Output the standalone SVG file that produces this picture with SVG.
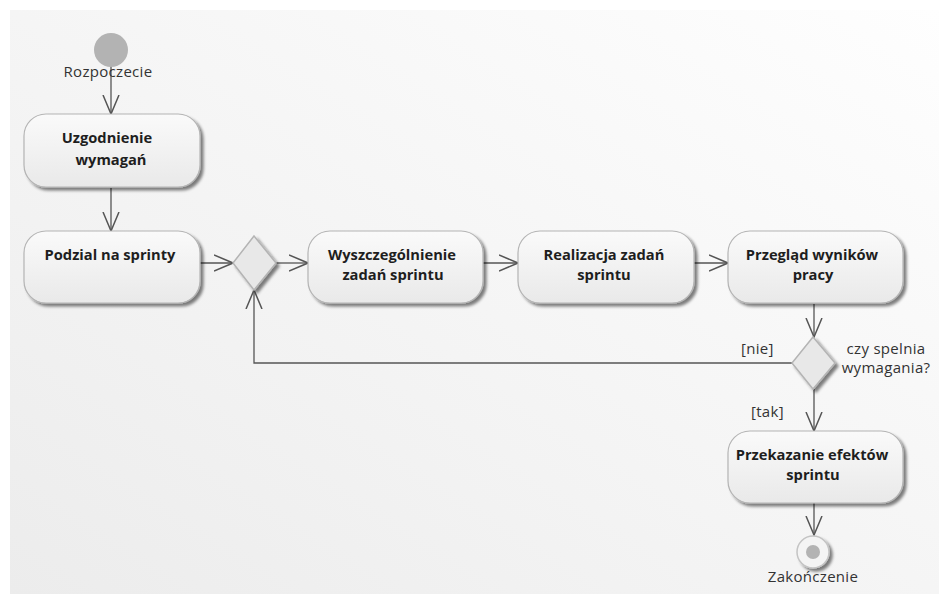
<svg xmlns="http://www.w3.org/2000/svg" width="939" height="594" viewBox="0 0 939 594">
<defs>
<linearGradient id="bg" x1="1" y1="0" x2="0" y2="1">
<stop offset="0" stop-color="#fefefe"/>
<stop offset="1" stop-color="#ececec"/>
</linearGradient>
<linearGradient id="nf" x1="0" y1="0" x2="0" y2="1">
<stop offset="0" stop-color="#fafafa"/>
<stop offset="1" stop-color="#e9e9e9"/>
</linearGradient>
<filter id="sh" x="-10%" y="-10%" width="130%" height="140%">
<feGaussianBlur in="SourceAlpha" stdDeviation="1.5"/>
<feOffset dx="3" dy="3" result="b"/>
<feComponentTransfer><feFuncA type="linear" slope="0.5"/></feComponentTransfer>
<feMerge><feMergeNode/><feMergeNode in="SourceGraphic"/></feMerge>
</filter>
<marker id="arr" viewBox="0 0 20 18" refX="19" refY="9" markerWidth="20" markerHeight="18" markerUnits="userSpaceOnUse" orient="auto">
<path d="M0,1 L19,9 L0,17" fill="none" stroke="#555" stroke-width="1.5"/>
</marker>
<style>
.node{fill:url(#nf);stroke:#b4b4b4;stroke-width:1.2;filter:url(#sh)}
.lbl{font-family:"Open Sans","Liberation Sans",sans-serif;font-size:14.7px;font-weight:bold;fill:#1e1e1e;text-anchor:middle}
.t{font-family:"Open Sans","Liberation Sans",sans-serif;font-size:15px;fill:#333;letter-spacing:0.3px}
.c{fill:none;stroke:#555;stroke-width:1.3;marker-end:url(#arr)}
</style>
</defs>
<rect x="0" y="0" width="939" height="594" fill="#ffffff"/>
<rect x="10" y="10" width="929" height="584" fill="url(#bg)"/>

<g id="connectors">
<line class="c" x1="111" y1="60" x2="111" y2="114"/>
<line class="c" x1="111" y1="188" x2="111" y2="231"/>
<line class="c" x1="200" y1="263" x2="233" y2="263"/>
<line class="c" x1="276" y1="263" x2="308" y2="263"/>
<line class="c" x1="483" y1="263" x2="518" y2="263"/>
<line class="c" x1="694" y1="263" x2="728" y2="263"/>
<line class="c" x1="814" y1="304" x2="814" y2="337"/>
<polyline class="c" points="792,363 254,363 254,290"/>
<line class="c" x1="814" y1="389" x2="814" y2="431"/>
<line class="c" x1="814" y1="503" x2="814" y2="535"/>
<text class="t" x="741" y="354">[nie]</text>
<text class="t" x="751" y="417">[tak]</text>
</g>

<g id="start">
<circle cx="111" cy="50" r="17" fill="#b3b3b3"/>
<text class="t" x="108" y="77" text-anchor="middle">Rozpoczecie</text>
</g>

<g id="uzgodnienie">
<rect class="node" x="24" y="114" width="176" height="73" rx="22"/>
<text class="lbl" x="107" y="143">Uzgodnienie</text>
<text class="lbl" x="111" y="165">wymagań</text>
</g>

<g id="podzial">
<rect class="node" x="24" y="231" width="176" height="72" rx="22"/>
<text class="lbl" x="110" y="260">Podzial na sprinty</text>
</g>

<g id="merge">
<polygon points="254,236 276,263 254,290 233,263" fill="#e8e8e8" stroke="#b4b4b4" stroke-width="1.5" filter="url(#sh)"/>
</g>

<g id="wyszczegolnienie">
<rect class="node" x="308" y="231" width="175" height="72" rx="22"/>
<text class="lbl" x="392" y="260">Wyszczególnienie</text>
<text class="lbl" x="393" y="280">zadań sprintu</text>
</g>

<g id="realizacja">
<rect class="node" x="518" y="231" width="176" height="72" rx="22"/>
<text class="lbl" x="604" y="260">Realizacja zadań</text>
<text class="lbl" x="604" y="280">sprintu</text>
</g>

<g id="przeglad">
<rect class="node" x="728" y="231" width="175" height="72" rx="22"/>
<text class="lbl" x="812" y="260">Przegląd wyników</text>
<text class="lbl" x="813" y="280">pracy</text>
</g>

<g id="decision">
<polygon points="813,337 835,363 813,389 792,363" fill="#e8e8e8" stroke="#b4b4b4" stroke-width="1.5" filter="url(#sh)"/>
<text class="t" x="886" y="354" text-anchor="middle">czy spelnia</text>
<text class="t" x="886" y="373" text-anchor="middle">wymagania?</text>
</g>

<g id="przekazanie">
<rect class="node" x="728" y="431" width="175" height="72" rx="22"/>
<text class="lbl" x="812" y="460">Przekazanie efektów</text>
<text class="lbl" x="813" y="480">sprintu</text>
</g>

<g id="end">
<circle cx="813" cy="552" r="16" fill="#f4f4f4" stroke="#c4c4c4" stroke-width="1.5" filter="url(#sh)"/>
<circle cx="813" cy="552" r="7" fill="#b3b3b3"/>
<text class="t" x="813" y="582" text-anchor="middle">Zakończenie</text>
</g>
</svg>
